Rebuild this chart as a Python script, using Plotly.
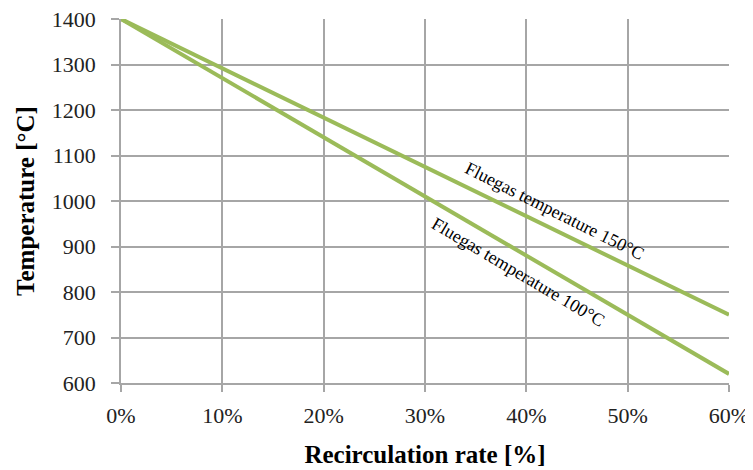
import plotly.graph_objects as go

recirc_rate = [0, 10, 20, 30, 40, 50, 60]
temp_150 = [1400, 1292, 1183, 1075, 967, 858, 750]
temp_100 = [1400, 1270, 1140, 1010, 880, 750, 620]
x_ticks = [0, 10, 20, 30, 40, 50, 60]
x_tick_labels = ["0%", "10%", "20%", "30%", "40%", "50%", "60%"]
y_ticks = [600, 700, 800, 900, 1000, 1100, 1200, 1300, 1400]

green = "#9BBB59"
grid = "#A6A6A6"
font_family = "Liberation Serif"

fig = go.Figure()
fig.add_trace(go.Scatter(x=recirc_rate, y=temp_150, mode="lines",
                         line=dict(color=green, width=4), showlegend=False, cliponaxis=False))
fig.add_trace(go.Scatter(x=recirc_rate, y=temp_100, mode="lines",
                         line=dict(color=green, width=4), showlegend=False, cliponaxis=False))

fig.add_annotation(x=42.8, y=978, xref="x", yref="y", text="Fluegas temperature 150°C",
                   showarrow=False, textangle=26.5,
                   font=dict(family=font_family, size=18, color="#000"))
fig.add_annotation(x=39.2, y=845, xref="x", yref="y", text="Fluegas temperature 100°C",
                   showarrow=False, textangle=30.5,
                   font=dict(family=font_family, size=18, color="#000"))

# page body has an 8px margin, so the figure is sized to the visible area
fig.update_layout(
    width=745, height=462,
    margin=dict(l=113, r=24, t=11, b=87, autoexpand=False),
    paper_bgcolor="white", plot_bgcolor="white",
    font=dict(family=font_family, size=22, color="#222"),
    xaxis=dict(range=[0, 60], tickvals=x_ticks, ticktext=x_tick_labels,
               showgrid=True, gridcolor=grid, gridwidth=1.5,
               showline=True, linecolor=grid, linewidth=1.5,
               ticks="outside", ticklen=7, tickcolor=grid, tickwidth=1.5,
               ticklabelstandoff=5, ticklabeloverflow="allow",
               zeroline=False, automargin=False,
               title=dict(text="<b>Recirculation rate [%]</b>", font=dict(size=25, color="#000"), standoff=18)),
    yaxis=dict(range=[600, 1400], tickvals=y_ticks,
               showgrid=True, gridcolor=grid, gridwidth=1.5,
               showline=True, linecolor=grid, linewidth=1.5,
               ticks="outside", ticklen=8, tickcolor=grid, tickwidth=1.5,
               ticklabelstandoff=11, ticklabeloverflow="allow",
               zeroline=False, automargin=False,
               title=dict(text="<b>Temperature [°C]</b>", font=dict(size=25, color="#000"), standoff=10)),
)

fig.write_html("out.html")
